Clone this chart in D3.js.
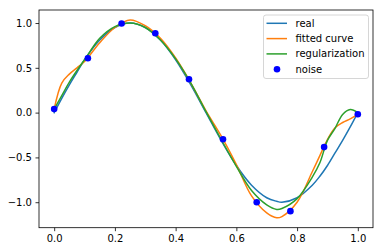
<!DOCTYPE html>
<html>
<head>
<meta charset="utf-8">
<script src="https://cdn.jsdelivr.net/npm/d3@7"></script>
<style>
  body { margin: 0; background: #fff; }
  svg { display: block; font-family: "DejaVu Sans", sans-serif; }
</style>
</head>
<body>
<div id="container"></div>
<script>
// sample positions
const curveX = [0, 0.025, 0.05, 0.075, 0.1, 0.15, 0.2, 0.25, 0.3, 0.35, 0.4, 0.45, 0.5, 0.55, 0.6, 0.65, 0.7, 0.733, 0.75, 0.8, 0.85, 0.875, 0.9, 0.925, 0.95, 0.975, 1.0];
const realY = [0, 0.16, 0.31, 0.45, 0.59, 0.81, 0.95, 1.0, 0.95, 0.81, 0.59, 0.31, 0, -0.31, -0.59, -0.81, -0.95, -0.99, -1.0, -0.95, -0.81, -0.71, -0.59, -0.45, -0.31, -0.16, 0];
const fittedY = [0.04, 0.33, 0.43, 0.5, 0.57, 0.78, 0.95, 1.035, 0.97, 0.83, 0.61, 0.33, 0.02, -0.26, -0.58, -0.93, -1.12, -1.174, -1.16, -1.0, -0.66, -0.48, -0.3, -0.17, -0.11, -0.07, -0.02];
const regY = [0.04, 0.19, 0.34, 0.47, 0.59, 0.83, 0.96, 1.0, 0.95, 0.81, 0.6, 0.33, 0.01, -0.3, -0.6, -0.87, -1.03, -1.08, -1.07, -0.96, -0.72, -0.56, -0.31, -0.175, -0.02, 0.035, 0.0];
// noisy samples
const noiseX = [0, 0.111, 0.222, 0.333, 0.444, 0.556, 0.667, 0.778, 0.889, 1.0];
const noiseY = [0.04, 0.607, 0.995, 0.886, 0.372, -0.298, -1.0, -1.1, -0.385, -0.018];

const xTicks = [0, 0.2, 0.4, 0.6, 0.8, 1.0];
const yTicks = [-1.0, -0.5, 0, 0.5, 1.0];
const seriesNames = ["real", "fitted curve", "regularization", "noise"];

const w = 383, h = 252;
const plot = { left: 39, right: 373, top: 10, bottom: 227.7 };

const svg = d3.select("#container").append("svg")
  .attr("width", w).attr("height", h);

// 5% margins like matplotlib
const allY = realY.concat(fittedY, regY, noiseY);
const yMin = d3.min(allY), yMax = d3.max(allY);
const yPad = (yMax - yMin) * 0.05;
const xScale = d3.scaleLinear().domain([-0.05, 1.05]).range([plot.left, plot.right]);
const yScale = d3.scaleLinear().domain([yMin - yPad, yMax + yPad]).range([plot.bottom, plot.top]);

const lines = [
  { name: seriesNames[0], ys: realY, color: "#1f77b4" },
  { name: seriesNames[1], ys: fittedY, color: "#ff7f0e" },
  { name: seriesNames[2], ys: regY, color: "#2ca02c" }
];

const lineGen = d3.line()
  .x(d => xScale(d[0]))
  .y(d => yScale(d[1]))
  .curve(d3.curveCatmullRom.alpha(0.5));

svg.append("defs").append("clipPath").attr("id", "clip")
  .append("rect")
  .attr("x", plot.left).attr("y", plot.top)
  .attr("width", plot.right - plot.left).attr("height", plot.bottom - plot.top);

const g = svg.append("g").attr("clip-path", "url(#clip)");

lines.forEach(s => {
  g.append("path")
    .datum(curveX.map((x, i) => [x, s.ys[i]]))
    .attr("d", lineGen)
    .attr("fill", "none")
    .attr("stroke", s.color)
    .attr("stroke-width", 1.5)
    .attr("stroke-linejoin", "round")
    .attr("stroke-linecap", "square");
});

g.selectAll("circle.noise")
  .data(noiseX.map((x, i) => [x, noiseY[i]]))
  .enter().append("circle")
  .attr("class", "noise")
  .attr("cx", d => xScale(d[0]))
  .attr("cy", d => yScale(d[1]))
  .attr("r", 3.3)
  .attr("fill", "#0000ff");

// axes
const xAxis = d3.axisBottom(xScale).tickValues(xTicks).tickFormat(d3.format(".1f"))
  .tickSize(3.5).tickPadding(3.5).tickSizeOuter(0);
const yAxis = d3.axisLeft(yScale).tickValues(yTicks).tickFormat(d3.format(".1f"))
  .tickSize(3.5).tickPadding(3.5).tickSizeOuter(0);

const gx = svg.append("g").attr("transform", `translate(0,${plot.bottom})`).call(xAxis);
const gy = svg.append("g").attr("transform", `translate(${plot.left},0)`).call(yAxis);
[gx, gy].forEach(a => {
  a.select(".domain").remove();
  a.selectAll(".tick line").attr("stroke", "#000").attr("stroke-width", 0.8);
  a.selectAll(".tick text").attr("fill", "#000")
    .style("font-family", "DejaVu Sans").style("font-size", "10px");
});

svg.append("rect")
  .attr("x", plot.left).attr("y", plot.top)
  .attr("width", plot.right - plot.left).attr("height", plot.bottom - plot.top)
  .attr("fill", "none").attr("stroke", "#000").attr("stroke-width", 0.8);

// legend
const leg = svg.append("g").attr("transform", "translate(263.5,15)");
leg.append("rect")
  .attr("width", 105).attr("height", 63.5)
  .attr("rx", 2.5)
  .attr("fill", "#fff").attr("fill-opacity", 0.8)
  .attr("stroke", "#cccccc").attr("stroke-width", 0.8);

const legItems = leg.selectAll("g.item")
  .data(seriesNames)
  .enter().append("g")
  .attr("class", "item")
  .attr("transform", (d, i) => `translate(0,${8.3 + i * 15.3})`);

legItems.each(function (d, i) {
  const item = d3.select(this);
  if (i < 3) {
    item.append("line")
      .attr("x1", 3).attr("x2", 23.5).attr("y1", 0).attr("y2", 0)
      .attr("stroke", lines[i].color).attr("stroke-width", 1.5);
  } else {
    item.append("circle").attr("cx", 13.5).attr("cy", 0).attr("r", 3.3).attr("fill", "#0000ff");
  }
  item.append("text")
    .attr("x", 32).attr("y", 0).attr("dy", "0.35em")
    .style("font-size", "10px").attr("fill", "#000")
    .text(d);
});
</script>
</body>
</html>
